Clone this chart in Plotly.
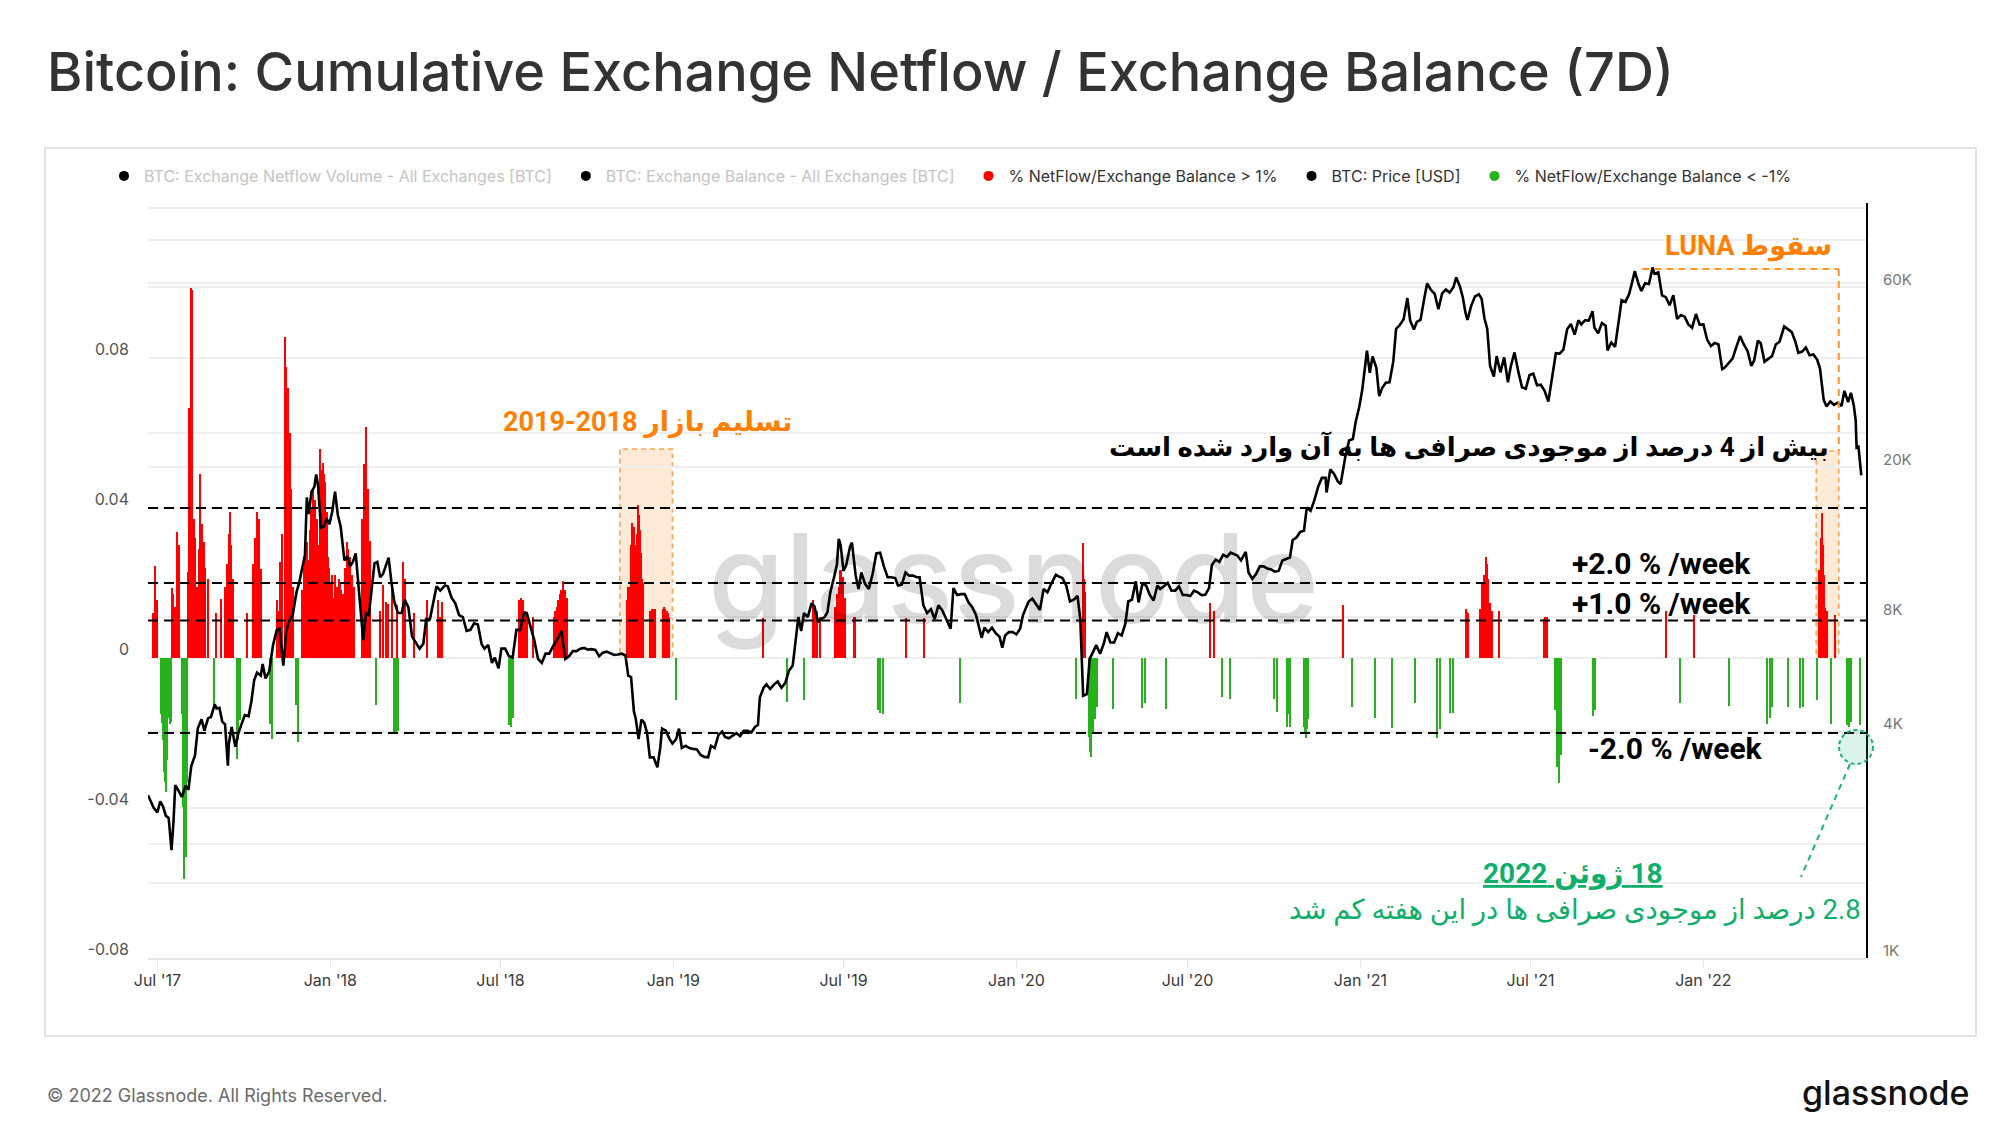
import plotly.graph_objects as go

# % NetFlow / Exchange Balance (7D) when above +1 % (red bars)
red_dates = [
    "2017-06-27", "2017-06-29", "2017-07-01", "2017-07-17", "2017-07-18", "2017-07-20", "2017-07-22", "2017-07-24",
    "2017-08-03", "2017-08-04", "2017-08-06", "2017-08-07", "2017-08-09", "2017-08-10", "2017-08-12", "2017-08-14",
    "2017-08-16", "2017-08-18", "2017-08-20", "2017-08-21", "2017-08-24", "2017-09-02", "2017-09-07", "2017-09-11",
    "2017-09-13", "2017-09-15", "2017-09-17", "2017-09-18", "2017-09-20", "2017-10-05", "2017-10-11", "2017-10-13",
    "2017-10-15", "2017-10-17", "2017-10-19", "2017-11-05", "2017-11-07", "2017-11-09", "2017-11-11", "2017-11-14",
    "2017-11-15", "2017-11-17", "2017-11-19", "2017-11-20", "2017-11-23", "2017-12-02", "2017-12-04", "2017-12-05",
    "2017-12-07", "2017-12-09", "2017-12-11", "2017-12-12", "2017-12-14", "2017-12-16", "2017-12-18", "2017-12-19",
    "2017-12-21", "2017-12-22", "2017-12-24", "2017-12-25", "2017-12-26", "2017-12-27", "2017-12-29", "2017-12-30",
    "2017-12-31", "2018-01-01", "2018-01-03", "2018-01-04", "2018-01-06", "2018-01-08", "2018-01-10", "2018-01-12",
    "2018-01-13", "2018-01-15", "2018-01-17", "2018-01-19", "2018-01-20", "2018-01-22", "2018-01-24", "2018-01-26",
    "2018-02-04", "2018-02-06", "2018-02-08", "2018-02-10", "2018-02-12", "2018-02-13", "2018-02-23", "2018-02-26",
    "2018-03-01", "2018-03-04", "2018-03-08", "2018-03-13", "2018-03-20", "2018-03-22", "2018-03-31", "2018-04-14",
    "2018-04-26", "2018-04-28", "2018-04-30", "2018-07-21", "2018-07-23", "2018-07-25", "2018-07-27", "2018-07-29",
    "2018-08-05", "2018-08-27", "2018-08-28", "2018-08-30", "2018-09-01", "2018-09-03", "2018-09-04", "2018-09-06",
    "2018-09-08", "2018-09-10", "2018-11-13", "2018-11-14", "2018-11-15", "2018-11-16", "2018-11-17", "2018-11-18",
    "2018-11-19", "2018-11-20", "2018-11-21", "2018-11-22", "2018-11-23", "2018-11-24", "2018-11-25", "2018-11-26",
    "2018-11-27", "2018-11-28", "2018-11-29", "2018-11-30", "2018-12-07", "2018-12-08", "2018-12-09", "2018-12-10",
    "2018-12-11", "2018-12-12", "2018-12-13", "2018-12-21", "2018-12-22", "2018-12-23", "2018-12-24", "2018-12-25",
    "2018-12-26", "2018-12-27", "2018-12-28", "2019-04-07", "2019-05-30", "2019-06-01", "2019-06-03", "2019-06-06",
    "2019-06-22", "2019-06-24", "2019-06-26", "2019-06-28", "2019-06-29", "2019-07-01", "2019-07-03", "2019-07-12",
    "2019-07-14", "2019-09-06", "2019-09-25", "2020-03-12", "2020-03-13", "2020-03-14", "2020-07-25", "2020-07-29",
    "2020-12-14", "2021-04-24", "2021-04-25", "2021-04-26", "2021-05-09", "2021-05-11", "2021-05-13", "2021-05-15",
    "2021-05-16", "2021-05-17", "2021-05-19", "2021-05-21", "2021-05-29", "2021-07-16", "2021-07-17", "2021-07-19",
    "2021-11-22", "2021-12-22", "2022-05-04", "2022-05-06", "2022-05-07", "2022-05-09", "2022-05-10", "2022-05-11",
    "2022-05-13", "2022-05-21",
]
red_vals = [
    0.012, 0.0245, 0.0155, 0.0187, 0.017, 0.0135, 0.0336, 0.030,
    0.023, 0.0667, 0.0987, 0.098, 0.037, 0.032, 0.019, 0.029,
    0.049, 0.0356, 0.031, 0.024, 0.021, 0.012, 0.0156, 0.019,
    0.025, 0.033, 0.039, 0.030, 0.021, 0.012, 0.025, 0.032,
    0.039, 0.037, 0.0236, 0.0155, 0.0125, 0.0256, 0.033, 0.0856,
    0.0776, 0.072, 0.060, 0.045, 0.019, 0.018, 0.024, 0.028,
    0.031, 0.026, 0.034, 0.040, 0.045, 0.042, 0.037, 0.030,
    0.0557, 0.050, 0.052, 0.041, 0.049, 0.047, 0.039, 0.027,
    0.024, 0.020, 0.022, 0.016, 0.022, 0.019, 0.021, 0.020,
    0.018, 0.017, 0.024, 0.031, 0.029, 0.027, 0.022, 0.019,
    0.037, 0.0516, 0.0617, 0.045, 0.0313, 0.0245, 0.0125, 0.0195,
    0.015, 0.0145, 0.019, 0.014, 0.0256, 0.021, 0.012, 0.0155,
    0.0155, 0.011, 0.015, 0.0155, 0.016, 0.0155, 0.0125, 0.012,
    0.011, 0.011, 0.0125, 0.0135, 0.0155, 0.017, 0.018, 0.0204,
    0.018, 0.016, 0.0155, 0.019, 0.017, 0.019, 0.030, 0.036,
    0.032, 0.035, 0.024, 0.026, 0.030, 0.033, 0.0408, 0.038,
    0.034, 0.028, 0.021, 0.020, 0.0125, 0.012, 0.0125, 0.013,
    0.013, 0.0125, 0.013, 0.013, 0.0135, 0.013, 0.0125, 0.0125,
    0.012, 0.012, 0.011, 0.0107, 0.0155, 0.0135, 0.0125, 0.011,
    0.0135, 0.0171, 0.019, 0.0235, 0.0235, 0.0215, 0.016, 0.011,
    0.011, 0.0107, 0.0107, 0.0306, 0.021, 0.0175, 0.0146, 0.0125,
    0.014, 0.013, 0.0123, 0.012, 0.0131, 0.020, 0.022, 0.027,
    0.025, 0.021, 0.0147, 0.0125, 0.0125, 0.0105, 0.011, 0.011,
    0.0124, 0.0115, 0.0235, 0.032, 0.0386, 0.030, 0.022, 0.0133,
    0.0125, 0.0115,
]

# % NetFlow / Exchange Balance (7D) when below -1 % (green bars)
green_dates = [
    "2017-07-05", "2017-07-06", "2017-07-07", "2017-07-08", "2017-07-09", "2017-07-10", "2017-07-11", "2017-07-12",
    "2017-07-13", "2017-07-14", "2017-07-15", "2017-07-16", "2017-07-27", "2017-07-29", "2017-07-30", "2017-08-01",
    "2017-08-02", "2017-08-30", "2017-09-24", "2017-09-25", "2017-09-27", "2017-10-29", "2017-10-31", "2017-11-26",
    "2017-11-28", "2018-02-19", "2018-03-10", "2018-03-12", "2018-03-14", "2018-07-10", "2018-07-13", "2018-07-15",
    "2019-01-04", "2019-05-02", "2019-05-20", "2019-08-07", "2019-08-09", "2019-08-12", "2019-11-02", "2020-03-05",
    "2020-03-18", "2020-03-20", "2020-03-21", "2020-03-23", "2020-03-25", "2020-03-27", "2020-04-13", "2020-05-14",
    "2020-05-17", "2020-06-08", "2020-08-07", "2020-08-16", "2020-10-01", "2020-10-05", "2020-10-15", "2020-10-16",
    "2020-10-17", "2020-10-18", "2020-11-02", "2020-11-03", "2020-11-04", "2020-11-05", "2020-11-06", "2020-12-23",
    "2021-01-17", "2021-02-04", "2021-02-28", "2021-03-24", "2021-03-27", "2021-04-07", "2021-04-10", "2021-07-27",
    "2021-07-30", "2021-08-01", "2021-08-03", "2021-09-06", "2021-09-08", "2021-12-07", "2022-01-28", "2022-03-10",
    "2022-03-13", "2022-03-15", "2022-04-01", "2022-04-14", "2022-04-17", "2022-05-02", "2022-05-17", "2022-06-03",
    "2022-06-05", "2022-06-07", "2022-06-17",
]
green_vals = [
    -0.015, -0.0174, -0.022, -0.0304, -0.033, -0.0357, -0.0271, -0.018,
    -0.0128, -0.016, -0.0175, -0.017, -0.015, -0.0398, -0.059, -0.053,
    -0.033, -0.0125, -0.027, -0.022, -0.0166, -0.0175, -0.0215, -0.0125,
    -0.0225, -0.0126, -0.0198, -0.0202, -0.0195, -0.018, -0.0185, -0.016,
    -0.0112, -0.0117, -0.0112, -0.0139, -0.0148, -0.015, -0.012, -0.011,
    -0.021, -0.025, -0.0265, -0.020, -0.0164, -0.013, -0.0135, -0.0133,
    -0.012, -0.0137, -0.0105, -0.011, -0.011, -0.0145, -0.0183, -0.015,
    -0.015, -0.0183, -0.0183, -0.020, -0.0213, -0.019, -0.0164, -0.013,
    -0.016, -0.0187, -0.012, -0.0213, -0.019, -0.0147, -0.0147, -0.0139,
    -0.029, -0.0334, -0.026, -0.0155, -0.014, -0.012, -0.0127, -0.0175,
    -0.016, -0.013, -0.0132, -0.0133, -0.013, -0.0113, -0.0175, -0.018,
    -0.0183, -0.017, -0.018,
]

# BTC price in USD (right, log axis)
price_dates = [
    "2017-06-21", "2017-06-24", "2017-06-27", "2017-07-01", "2017-07-04", "2017-07-07", "2017-07-10", "2017-07-13",
    "2017-07-16", "2017-07-18", "2017-07-20", "2017-07-24", "2017-07-27", "2017-07-31", "2017-08-03", "2017-08-06",
    "2017-08-10", "2017-08-13", "2017-08-17", "2017-08-20", "2017-08-24", "2017-08-27", "2017-08-31", "2017-09-02",
    "2017-09-05", "2017-09-08", "2017-09-11", "2017-09-14", "2017-09-15", "2017-09-18", "2017-09-22", "2017-09-25",
    "2017-09-29", "2017-10-02", "2017-10-06", "2017-10-09", "2017-10-12", "2017-10-15", "2017-10-19", "2017-10-21",
    "2017-10-24", "2017-10-28", "2017-11-01", "2017-11-05", "2017-11-08", "2017-11-12", "2017-11-15", "2017-11-18",
    "2017-11-22", "2017-11-26", "2017-11-29", "2017-12-02", "2017-12-05", "2017-12-07", "2017-12-09", "2017-12-12",
    "2017-12-15", "2017-12-17", "2017-12-19", "2017-12-22", "2017-12-25", "2017-12-28", "2017-12-31",
    "2018-01-03", "2018-01-06", "2018-01-09", "2018-01-12", "2018-01-16", "2018-01-19", "2018-01-22", "2018-01-25",
    "2018-01-28", "2018-02-01", "2018-02-05", "2018-02-08", "2018-02-11", "2018-02-14", "2018-02-17", "2018-02-20",
    "2018-02-23", "2018-02-26", "2018-03-01", "2018-03-04", "2018-03-07", "2018-03-10", "2018-03-14", "2018-03-18",
    "2018-03-21", "2018-03-25", "2018-03-29", "2018-04-01", "2018-04-06", "2018-04-10", "2018-04-13", "2018-04-17",
    "2018-04-21", "2018-04-24", "2018-04-28", "2018-05-03", "2018-05-06", "2018-05-10", "2018-05-14", "2018-05-18",
    "2018-05-22", "2018-05-26", "2018-05-30", "2018-06-03", "2018-06-07", "2018-06-11", "2018-06-14", "2018-06-18",
    "2018-06-22", "2018-06-25", "2018-06-29", "2018-07-02", "2018-07-06", "2018-07-10", "2018-07-14", "2018-07-18",
    "2018-07-22", "2018-07-26", "2018-07-29", "2018-08-02", "2018-08-06", "2018-08-10", "2018-08-14", "2018-08-18",
    "2018-08-22", "2018-08-26", "2018-08-30", "2018-09-04", "2018-09-08", "2018-09-12", "2018-09-16", "2018-09-20",
    "2018-09-24", "2018-09-28", "2018-10-02", "2018-10-06", "2018-10-10", "2018-10-14", "2018-10-18", "2018-10-22",
    "2018-10-26", "2018-10-30", "2018-11-03", "2018-11-07", "2018-11-11", "2018-11-14", "2018-11-17", "2018-11-20",
    "2018-11-22", "2018-11-25", "2018-11-28", "2018-12-01", "2018-12-04", "2018-12-07", "2018-12-11", "2018-12-15",
    "2018-12-18", "2018-12-20", "2018-12-24", "2018-12-28", "2018-12-31",
    "2019-01-04", "2019-01-07", "2019-01-10", "2019-01-14", "2019-01-18", "2019-01-22", "2019-01-26", "2019-01-30",
    "2019-02-03", "2019-02-07", "2019-02-10", "2019-02-14", "2019-02-18", "2019-02-22", "2019-02-25", "2019-03-01",
    "2019-03-05", "2019-03-09", "2019-03-13", "2019-03-17", "2019-03-21", "2019-03-25", "2019-03-29", "2019-04-01",
    "2019-04-03", "2019-04-07", "2019-04-10", "2019-04-14", "2019-04-18", "2019-04-22", "2019-04-26", "2019-04-30",
    "2019-05-04", "2019-05-08", "2019-05-11", "2019-05-14", "2019-05-17", "2019-05-20", "2019-05-24", "2019-05-28",
    "2019-05-31", "2019-06-04", "2019-06-07", "2019-06-11", "2019-06-14", "2019-06-17", "2019-06-21", "2019-06-24",
    "2019-06-26", "2019-06-28", "2019-07-01", "2019-07-04", "2019-07-08", "2019-07-10", "2019-07-14", "2019-07-17",
    "2019-07-20", "2019-07-24", "2019-07-28", "2019-08-01", "2019-08-05", "2019-08-09", "2019-08-13", "2019-08-17",
    "2019-08-21", "2019-08-25", "2019-08-28", "2019-09-01", "2019-09-05", "2019-09-09", "2019-09-13", "2019-09-17",
    "2019-09-20", "2019-09-24", "2019-09-28", "2019-10-02", "2019-10-06", "2019-10-10", "2019-10-14", "2019-10-18",
    "2019-10-23", "2019-10-26", "2019-10-30", "2019-11-03", "2019-11-07", "2019-11-11", "2019-11-15", "2019-11-19",
    "2019-11-22", "2019-11-25", "2019-11-28", "2019-12-02", "2019-12-06", "2019-12-10", "2019-12-14", "2019-12-17",
    "2019-12-20", "2019-12-24", "2019-12-28",
    "2020-01-01", "2020-01-05", "2020-01-08", "2020-01-14", "2020-01-18", "2020-01-22", "2020-01-26", "2020-01-30",
    "2020-02-03", "2020-02-07", "2020-02-12", "2020-02-15", "2020-02-19", "2020-02-23", "2020-02-27", "2020-03-02",
    "2020-03-06", "2020-03-09", "2020-03-12", "2020-03-16", "2020-03-19", "2020-03-23", "2020-03-26", "2020-03-30",
    "2020-04-03", "2020-04-06", "2020-04-10", "2020-04-14", "2020-04-18", "2020-04-22", "2020-04-26", "2020-04-29",
    "2020-05-03", "2020-05-07", "2020-05-10", "2020-05-14", "2020-05-18", "2020-05-22", "2020-05-26", "2020-05-30",
    "2020-06-02", "2020-06-06", "2020-06-10", "2020-06-14", "2020-06-18", "2020-06-22", "2020-06-26", "2020-06-30",
    "2020-07-04", "2020-07-08", "2020-07-12", "2020-07-16", "2020-07-20", "2020-07-24", "2020-07-27", "2020-07-31",
    "2020-08-04", "2020-08-08", "2020-08-12", "2020-08-16", "2020-08-19", "2020-08-23", "2020-08-27", "2020-09-01",
    "2020-09-04", "2020-09-08", "2020-09-12", "2020-09-16", "2020-09-20", "2020-09-24", "2020-09-28", "2020-10-02",
    "2020-10-06", "2020-10-10", "2020-10-14", "2020-10-18", "2020-10-21", "2020-10-25", "2020-10-29", "2020-11-02",
    "2020-11-05", "2020-11-09", "2020-11-13", "2020-11-17", "2020-11-21", "2020-11-25", "2020-11-26", "2020-11-30",
    "2020-12-04", "2020-12-08", "2020-12-11", "2020-12-16", "2020-12-20", "2020-12-24", "2020-12-27", "2020-12-31",
    "2021-01-03", "2021-01-06", "2021-01-08", "2021-01-11", "2021-01-14", "2021-01-18", "2021-01-21", "2021-01-24",
    "2021-01-28", "2021-02-01", "2021-02-05", "2021-02-08", "2021-02-12", "2021-02-16", "2021-02-20", "2021-02-23",
    "2021-02-27", "2021-03-02", "2021-03-06", "2021-03-10", "2021-03-13", "2021-03-17", "2021-03-21", "2021-03-25",
    "2021-03-29", "2021-04-02", "2021-04-06", "2021-04-10", "2021-04-13", "2021-04-17", "2021-04-20", "2021-04-23",
    "2021-04-25", "2021-04-29", "2021-05-03", "2021-05-07", "2021-05-10", "2021-05-13", "2021-05-16", "2021-05-19",
    "2021-05-23", "2021-05-26", "2021-05-30", "2021-06-03", "2021-06-07", "2021-06-10", "2021-06-14", "2021-06-18",
    "2021-06-22", "2021-06-26", "2021-06-30", "2021-07-04", "2021-07-08", "2021-07-12", "2021-07-16", "2021-07-20",
    "2021-07-24", "2021-07-28", "2021-08-01", "2021-08-05", "2021-08-09", "2021-08-13", "2021-08-17", "2021-08-21",
    "2021-08-24", "2021-08-28", "2021-09-01", "2021-09-05", "2021-09-07", "2021-09-11", "2021-09-15", "2021-09-19",
    "2021-09-21", "2021-09-25", "2021-09-29", "2021-10-02", "2021-10-06", "2021-10-10", "2021-10-14", "2021-10-17",
    "2021-10-20", "2021-10-24", "2021-10-27", "2021-10-31", "2021-11-04", "2021-11-08", "2021-11-10", "2021-11-14",
    "2021-11-18", "2021-11-22", "2021-11-26", "2021-11-30", "2021-12-04", "2021-12-08", "2021-12-12", "2021-12-16",
    "2021-12-20", "2021-12-24", "2021-12-28",
    "2022-01-01", "2022-01-05", "2022-01-09", "2022-01-13", "2022-01-17", "2022-01-21", "2022-01-24", "2022-01-28",
    "2022-02-01", "2022-02-05", "2022-02-09", "2022-02-13", "2022-02-17", "2022-02-21", "2022-02-24", "2022-02-28",
    "2022-03-03", "2022-03-07", "2022-03-11", "2022-03-15", "2022-03-19", "2022-03-23", "2022-03-28", "2022-04-01",
    "2022-04-05", "2022-04-09", "2022-04-12", "2022-04-16", "2022-04-20", "2022-04-24", "2022-04-28", "2022-05-02",
    "2022-05-05", "2022-05-09", "2022-05-12", "2022-05-16", "2022-05-20", "2022-05-24", "2022-05-28", "2022-05-31",
    "2022-06-04", "2022-06-07", "2022-06-10", "2022-06-12", "2022-06-13", "2022-06-15", "2022-06-17", "2022-06-18",
]
price_usd = [
    2700, 2590, 2500, 2430, 2600, 2520, 2380, 2350,
    1930, 2270, 2870, 2760, 2670, 2860, 2790, 3220,
    3440, 4060, 4290, 4000, 4320, 4350, 4700, 4580,
    4600, 4230, 4160, 3230, 3690, 4090, 3630, 3930,
    4170, 4400, 4370, 4780, 5450, 5700, 5600, 6010,
    5500, 5750, 6740, 7400, 7460, 5950, 7300, 7800,
    8100, 9300, 9900, 10900, 11700, 16600, 15000, 17200,
    17700, 19100, 17800, 13800, 13900, 14600, 14100,
    15200, 17200, 14900, 13900, 11300, 11600, 10900, 11200,
    11800, 9100, 6950, 8200, 8100, 9500, 11100, 11200,
    10200, 10400, 10900, 11500, 9900, 8800, 8200, 8200,
    8900, 8500, 7100, 6900, 6600, 6800, 7900, 7900,
    8900, 9650, 9400, 9700, 9650, 9000, 8700, 8100,
    8000, 7350, 7400, 7700, 7650, 6780, 6600, 6750,
    6050, 6250, 5850, 6600, 6600, 6300, 6250, 7400,
    7400, 8200, 8200, 7550, 6950, 6200, 6050, 6400,
    6400, 6700, 6950, 7350, 6200, 6300, 6500, 6500,
    6600, 6630, 6560, 6580, 6550, 6300, 6440, 6480,
    6420, 6350, 6370, 6400, 6330, 5600, 5550, 4500,
    4300, 3800, 4280, 4200, 3950, 3400, 3400, 3200,
    3600, 4050, 4000, 3800, 3700,
    3800, 4050, 3600, 3650, 3600, 3580, 3570, 3450,
    3410, 3400, 3650, 3600, 3900, 3980, 3850, 3820,
    3870, 3940, 3870, 4000, 4000, 3960, 4100, 4140,
    4900, 5200, 5310, 5160, 5300, 5400, 5200, 5350,
    5770, 5950, 6900, 8000, 7350, 8200, 8000, 8700,
    8550, 7750, 7900, 8000, 8250, 9300, 10200, 11000,
    12900, 12400, 10600, 11000, 12300, 12600, 10300, 9500,
    10500, 9800, 9500, 10400, 11800, 11850, 10900, 10200,
    10200, 10150, 9700, 9750, 10500, 10300, 10300, 10200,
    10200, 8600, 8200, 8400, 7900, 8600, 8350, 7950,
    7450, 9550, 9150, 9200, 9200, 8750, 8500, 8100,
    7600, 7050, 7500, 7300, 7500, 7250, 7100, 6640,
    7150, 7300, 7300,
    7200, 7450, 8100, 8800, 8950, 8650, 8350, 9500,
    9300, 9800, 10350, 10250, 10150, 9700, 8800, 8900,
    9100, 7900, 4950, 5000, 6200, 6500, 6750, 6400,
    6800, 7300, 6850, 6850, 7250, 7150, 7700, 8800,
    8900, 9950, 8750, 9800, 9700, 9150, 8850, 9700,
    9500, 9650, 9850, 9400, 9400, 9650, 9150, 9150,
    9100, 9400, 9300, 9150, 9170, 9550, 11000, 11350,
    11200, 11700, 11550, 11850, 11750, 11650, 11300, 11900,
    10500, 10100, 10400, 10900, 10900, 10750, 10700, 10550,
    10600, 11300, 11400, 11500, 12800, 13000, 13450, 13550,
    15600, 15300, 16300, 17700, 18700, 18700, 17100, 19700,
    19150, 18300, 18000, 21300, 23500, 23700, 26300, 29000,
    32000, 36800, 40600, 35500, 39200, 36600, 30800, 32300,
    33400, 33500, 38000, 46400, 47500, 49200, 56000, 48800,
    46200, 48400, 49000, 55900, 61200, 58900, 57500, 52300,
    57600, 59000, 57900, 59800, 63500, 60000, 56200, 51000,
    49000, 53500, 56600, 57300, 55800, 49500, 46400, 37000,
    34700, 39300, 35600, 39000, 33500, 36900, 40200, 35800,
    32500, 32200, 35000, 35300, 32900, 33000, 31800, 29800,
    34300, 40000, 39900, 40900, 46300, 47800, 44800, 48900,
    47700, 48900, 48800, 51700, 46800, 45200, 48100, 47300,
    40700, 42700, 41600, 47600, 55300, 54700, 57400, 61500,
    66000, 61000, 58500, 61300, 61000, 67500, 64900, 65500,
    56900, 56300, 53600, 57000, 49300, 50500, 50000, 47700,
    46700, 50800, 47600,
    47700, 43400, 41800, 42600, 42200, 36300, 36700, 37700,
    38700, 41500, 44400, 42200, 40500, 37000, 38300, 43200,
    42500, 38000, 38700, 39300, 42200, 42900, 47100, 46300,
    45500, 42800, 40100, 40400, 41400, 39500, 39700, 38500,
    36500, 30100, 28900, 29800, 29200, 29600, 29000, 31800,
    29700, 31400, 29100, 26600, 22500, 22600, 20400, 19000,
]

tick_dates = ["2017-07-01", "2018-01-01", "2018-07-01", "2019-01-01", "2019-07-01",
              "2020-01-01", "2020-07-01", "2021-01-01", "2021-07-01", "2022-01-01"]
tick_text = ["Jul '17", "Jan '18", "Jul '18", "Jan '19", "Jul '19",
             "Jan '20", "Jul '20", "Jan '21", "Jul '21", "Jan '22"]
ratio_ticks = [-0.08, -0.06, -0.04, -0.02, 0, 0.02, 0.04, 0.06, 0.08, 0.10, 0.12]
ratio_text = ["-0.08", "", "-0.04", "", "0", "", "0.04", "", "0.08", "", ""]
price_ticks = [1000, 2000, 4000, 8000, 20000, 60000, 80000, 100000]
price_text = ["1K", "", "4K", "8K", "20K", "60K", "", ""]
week_levels = [0.04, 0.02, 0.01, -0.02]

# plot area in pixels, used to place the notes around it
L, R, T, B = 148, 1866, 203, 958


def px(x):
    return (x - L) / (R - L)


def py(y):
    return (B - y) / (B - T)


DAY = 86400000
RED = "#ff0000"
GREEN = "#25b21c"
ORANGE = "#ff8000"
NOTE_GREEN = "#0fae6a"
FA = "Roboto, 'DejaVu Sans', sans-serif"
UI = "Inter, Roboto, sans-serif"
RLE, PDF = "\u202b", "\u202c"
GAP = "&nbsp;&nbsp;"

fig = go.Figure()

fig.add_trace(go.Bar(x=red_dates, y=red_vals, width=DAY * 1.6, marker=dict(color=RED, line=dict(width=0)),
                     showlegend=False, yaxis="y"))
fig.add_trace(go.Bar(x=green_dates, y=green_vals, width=DAY * 1.6, marker=dict(color=GREEN, line=dict(width=0)),
                     showlegend=False, yaxis="y"))
fig.add_trace(go.Scatter(x=price_dates, y=price_usd, mode="lines", line=dict(color="black", width=2.6),
                         showlegend=False, yaxis="y2"))

# legend entries (dots), the first two series are switched off in the original
legend_items = [
    ("<span style='color:#c4c4c4'>BTC: Exchange Netflow Volume - All Exchanges [BTC]</span>" + GAP, "black"),
    ("<span style='color:#c4c4c4'>BTC: Exchange Balance - All Exchanges [BTC]</span>" + GAP, "black"),
    ("% NetFlow/Exchange Balance > 1%" + GAP, RED),
    ("BTC: Price [USD]" + GAP, "black"),
    ("% NetFlow/Exchange Balance < -1%", GREEN),
]
for name, color in legend_items:
    fig.add_trace(go.Scatter(x=[None], y=[None], mode="markers", name=name,
                             marker=dict(color=color, size=10)))

shapes = []
# outer card
shapes.append(dict(type="rect", xref="paper", yref="paper", x0=px(45), x1=px(1976), y0=py(1036), y1=py(148),
                   line=dict(color="#e2e2e2", width=2), layer="below"))
# weekly thresholds
for lv in week_levels:
    shapes.append(dict(type="line", xref="paper", yref="y", x0=0, x1=1, y0=lv, y1=lv,
                       line=dict(color="black", width=2, dash="10px,6px")))
# capitulation 2018-2019 box
shapes.append(dict(type="rect", xref="x", yref="y", x0="2018-11-05", x1="2018-12-31", y0=0, y1=0.0557,
                   fillcolor="rgba(255,150,60,0.2)", line=dict(color="#ffa24d", width=1.5, dash="5px,4px"),
                   layer="below"))
# LUNA box and bracket from the top
shapes.append(dict(type="rect", xref="x", yref="y", x0="2022-05-01", x1="2022-05-25", y0=0, y1=0.0552,
                   fillcolor="rgba(255,150,60,0.2)", line=dict(color="#ffa24d", width=1.5, dash="5px,4px"),
                   layer="below"))
shapes.append(dict(type="line", xref="x", yref="y", x0="2021-10-28", x1="2022-05-25", y0=0.1037, y1=0.1037,
                   line=dict(color="#ff9326", width=2, dash="7px,5px")))
shapes.append(dict(type="line", xref="x", yref="y", x0="2022-05-25", x1="2022-05-25", y0=0.1037, y1=0.0552,
                   line=dict(color="#ff9326", width=2, dash="7px,5px")))
# 18 June marker
shapes.append(dict(type="circle", xref="paper", yref="paper", x0=px(1839), x1=px(1873), y0=py(764), y1=py(730),
                   fillcolor="rgba(20,180,110,0.15)", line=dict(color="#1fb37a", width=2, dash="4px,3px")))
shapes.append(dict(type="line", xref="paper", yref="paper", x0=px(1850), x1=px(1801), y0=py(764), y1=py(877),
                   line=dict(color="#1fb37a", width=2, dash="6px,5px")))

annotations = [
    dict(text="Bitcoin: Cumulative Exchange Netflow / Exchange Balance (7D)", x=px(45), y=py(72),
         xanchor="left", yanchor="middle", font=dict(family=UI, size=54, color="#333333", weight=500)),
    dict(text="© 2022 Glassnode. All Rights Reserved.", x=px(45), y=py(1095), xanchor="left", yanchor="middle",
         font=dict(family=UI, size=18, color="#6b6b6b")),
    dict(text="glassnode", x=px(1972), y=py(1092), xanchor="right", yanchor="middle",
         font=dict(family=UI, size=34, color="#111111", weight=500)),
    dict(text="glassnode", x=px(1013), y=py(578), xanchor="center", yanchor="middle",
         font=dict(family=UI, size=124, color="rgba(0,0,0,0.14)", weight=500)),
    dict(text="+2.0 % /week", x=px(1661), y=py(563), xanchor="center", yanchor="middle",
         font=dict(family=FA, size=30, color="black", weight=700)),
    dict(text="+1.0 % /week", x=px(1661), y=py(603), xanchor="center", yanchor="middle",
         font=dict(family=FA, size=30, color="black", weight=700)),
    dict(text="-2.0 % /week", x=px(1675), y=py(748), xanchor="center", yanchor="middle",
         font=dict(family=FA, size=30, color="black", weight=700)),
    dict(text=RLE + "سقوط LUNA" + PDF, x=px(1834), y=py(246), xanchor="right", yanchor="middle",
         font=dict(family=FA, size=27, color=ORANGE, weight=700)),
    dict(text=RLE + "تسلیم بازار 2018-2019" + PDF, x=px(647), y=py(422), xanchor="center", yanchor="middle",
         font=dict(family=FA, size=27, color=ORANGE, weight=700)),
    dict(text=RLE + "بیش از 4 درصد از موجودی صرافی ها به آن وارد شده است" + PDF, x=px(1831), y=py(447),
         xanchor="right", yanchor="middle", font=dict(family=FA, size=26, color="black", weight=700)),
    dict(text="<u>" + RLE + "18 ژوئن 2022" + PDF + "</u>", x=px(1573), y=py(873), xanchor="center",
         yanchor="middle", font=dict(family=FA, size=28, color=NOTE_GREEN, weight=700)),
    dict(text=RLE + "2.8 درصد از موجودی صرافی ها در این هفته کم شد" + PDF, x=px(1863), y=py(909),
         xanchor="right", yanchor="middle", font=dict(family=FA, size=27.5, color=NOTE_GREEN)),
]
for a in annotations:
    a.update(xref="paper", yref="paper", showarrow=False)

fig.update_layout(
    width=2000, height=1147,
    margin=dict(l=L, r=2000 - R, t=T, b=1147 - B, autoexpand=False),
    paper_bgcolor="white", plot_bgcolor="white",
    barmode="overlay", bargap=0,
    font=dict(family=UI, color="#333333"),
    showlegend=True,
    legend=dict(orientation="h", x=px(104), y=py(176), xanchor="left", yanchor="middle",
                font=dict(family=UI, size=16, color="#333333"), bgcolor="rgba(0,0,0,0)", itemwidth=30),
    xaxis=dict(type="date", range=["2017-06-21", "2022-06-23"], showgrid=False, zeroline=False,
               showline=True, linecolor="#e6e6e6", linewidth=2, ticks="outside", ticklen=7,
               tickcolor="#e6e6e6", tickvals=tick_dates, ticktext=tick_text,
               tickfont=dict(family=UI, size=16, color="#3a3a3a")),
    yaxis=dict(range=[-0.08, 0.1213], tickvals=ratio_ticks, ticktext=ratio_text, showgrid=True,
               gridcolor="#efefef", gridwidth=1.5, zeroline=False, showline=False, ticks="",
               ticklabelstandoff=18, ticklabelshift=-9, tickfont=dict(family=UI, size=16, color="#555555")),
    yaxis2=dict(type="log", range=[3, 5], overlaying="y", side="right", tickvals=price_ticks,
                ticktext=price_text, showgrid=True, gridcolor="#efefef", gridwidth=1.5, zeroline=False,
                showline=True, linecolor="black", linewidth=2, ticks="", ticklabelstandoff=12,
                ticklabelshift=-7, tickfont=dict(family=UI, size=15, color="#777777")),
    shapes=shapes,
    annotations=annotations,
)

fig.write_html("out.html", config={"displayModeBar": False},
               post_script="document.body.style.margin='0';")
